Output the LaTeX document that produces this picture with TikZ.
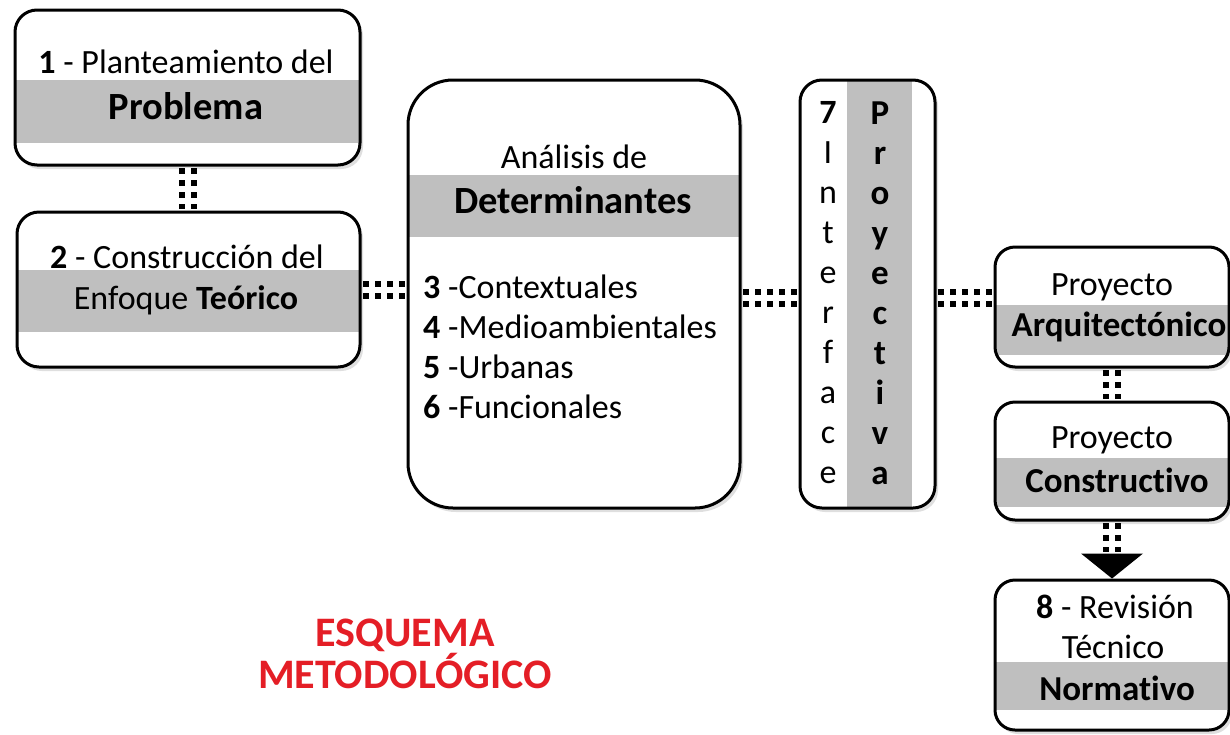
\documentclass[tikz,border=0pt]{standalone}
\usepackage{fontspec}
\setmainfont[Ligatures=NoCommon]{Carlito}
\usetikzlibrary{shadows}
\definecolor{bandgray}{RGB}{191,191,191}
\definecolor{titlered}{RGB}{228,30,38}
\tikzset{
  box/.style={draw, line width=3pt, fill=white, rounded corners=22pt, inner sep=0pt,
    drop shadow={opacity=0.25, shadow xshift=3pt, shadow yshift=-4pt}},
  band/.style 2 args={path picture={\fill[bandgray, sharp corners] ([yshift=-#1]path picture bounding box.north west) rectangle ([yshift=-#2]path picture bounding box.north east);}},
  colband/.style 2 args={path picture={\fill[bandgray, sharp corners] ([xshift=#1]path picture bounding box.north west) rectangle ([xshift=#2]path picture bounding box.south west);}},
  txt/.style={inner sep=0pt, font=\fontsize{34}{40}\selectfont},
  bold/.style={inner sep=0pt, font=\fontsize{35}{40}\selectfont\bfseries},
  head/.style={inner sep=0pt, font=\fontsize{38.5}{40}\selectfont\bfseries},
  link/.style={line width=6pt, double=white, double distance=6pt, dash pattern=on 6pt off 6pt,
    shorten <=1.5pt, shorten >=1.5pt},
  title/.style={text=titlered, align=center, font=\fontsize{42}{42}\selectfont\bfseries}
}
\begin{document}
\begin{tikzpicture}[x=1pt, y=-1pt]
  \useasboundingbox (0,0) rectangle (1230,734);
  % boxes
  \node[box, band={70pt}{133pt}, minimum width=345pt, minimum height=155pt] (plan) at (187.5,87.5) {};
  \node[box, band={58pt}{120pt}, minimum width=343pt, minimum height=155pt] (enfoque) at (188.5,289.5) {};
  \node[box, band={95pt}{157pt}, rounded corners=45pt, minimum width=332pt, minimum height=428pt] (det) at (574,294) {};
  \node[box, colband={47pt}{112pt}, minimum width=135pt, minimum height=428pt] (iface) at (867.5,294) {};
  \node[box, band={58pt}{108pt}, rounded corners=20pt, minimum width=234pt, minimum height=120pt] (arq) at (1112,307) {};
  \node[box, band={56pt}{105pt}, rounded corners=20pt, minimum width=234pt, minimum height=118pt] (cons) at (1112,461) {};
  \node[box, band={82pt}{130pt}, rounded corners=20pt, minimum width=234pt, minimum height=150pt] (rev) at (1112,655) {};
  % texts
  \node[txt] (plan1) at (186,62) {\textbf{1} - Planteamiento del};
  \node[head] (plan2) at (186,106) {Problema};
  \node[txt] (enf1) at (187,257) {\textbf{2} - Construcción del};
  \node[txt] (enf2) at (186,300) {Enfoque \textbf{Teórico}};
  \node[txt] (det1) at (574,157) {Análisis de};
  \node[head] (det2) at (573,200) {Determinantes};
  \node[txt, align=left, anchor=west] (detlist) at (423,347)
    {\textbf{3} -Contextuales\\\textbf{4} -Medioambientales\\\textbf{5} -Urbanas\\\textbf{6} -Funcionales};
  \node[txt, align=center] (ifaceL) at (828,293) {\textbf{7}\\I\\n\\t\\e\\r\\f\\a\\c\\e};
  \node[bold, align=center] (ifaceR) at (880,293) {P\\r\\o\\y\\e\\c\\t\\i\\v\\a};
  \node[txt] (arq1) at (1112,287) {Proyecto};
  \node[bold] (arq2) at (1119,327) {Arquitectónico};
  \node[txt] (cons1) at (1112,440) {Proyecto};
  \node[bold] (cons2) at (1117,480) {Constructivo};
  \node[txt] (rev1) at (1115,607) {\textbf{8} - Revisión};
  \node[txt] (rev2) at (1113,647) {Técnico};
  \node[bold] (rev3) at (1117,688) {Normativo};
  \node[title] (esquema) at (405,654) {ESQUEMA\\METODOLÓGICO};
  % connectors
  \draw[link] (plan.south) -- (plan.south |- enfoque.north);
  \draw[link] (enfoque.east) -- (enfoque.east -| det.west);
  \draw[link] ([yshift=-4pt]det.east) -- ([yshift=-4pt]iface.west);
  \draw[link] ([yshift=-4pt]iface.east) -- ([yshift=-4pt]iface.east -| arq.west);
  \draw[link] (arq.south) -- (cons.north);
  \draw[link] (cons.south) -- ++(0,32) coordinate (tip);
  \fill (tip) ++(-31,0) -- ++(62,0) -- (rev.north) -- cycle;
\end{tikzpicture}
\end{document}
